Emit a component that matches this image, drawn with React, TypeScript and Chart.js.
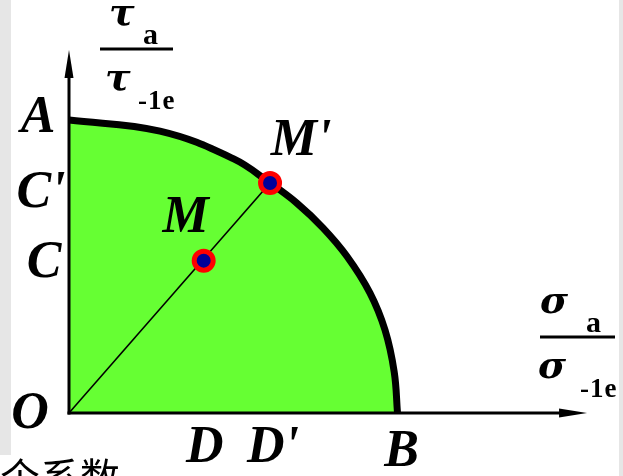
import React, { useEffect, useRef } from "react";
import { Chart, registerables } from "chart.js";

Chart.register(...registerables);

// Limit curve in normalised coordinates (σa/σ-1e, τa/τ-1e)
const arcSigma = [0, 0.277, 0.5, 0.612, 0.694, 0.773, 0.846, 0.916, 0.962, 0.99, 1.0];
const arcTau = [1.0, 0.962, 0.868, 0.785, 0.716, 0.632, 0.535, 0.41, 0.283, 0.14, 0];

// Working point M and its limit point M' on the ray from O
const pointNames = ["M", "M'"];
const pointSigma = [0.41, 0.612];
const pointTau = [0.52, 0.785];

// Axis extents (arrow tips)
const sigmaAxisEnd = 1.577;
const tauAxisEnd = 1.239;

// Letter labels: name, anchor value on each axis
const labelTexts = ["A", "C'", "C", "O", "D", "D'", "B", "M", "M'"];
const labelSigma = [0, 0, 0, 0, 0.41, 0.612, 1.0, 0.41, 0.612];
const labelTau = [1.0, 0.785, 0.52, 0, 0, 0, 0, 0.52, 0.785];

const CAPTION = "个系数";

const GREEN = "rgb(102,255,51)";
const SERIF = '"Liberation Serif", "DejaVu Serif", serif';
const GREEK = '"DejaVu Serif", "Liberation Serif", serif';

// pixel offsets of each letter from its anchor
const labelOffsets: [number, number][] = [
  [-31, 12],
  [-28, 24],
  [-25, 16],
  [-39, 15],
  [1, 49],
  [3, 49],
  [4, 53],
  [-18, -29],
  [31, -28],
];

const backgroundPlugin = {
  id: "paper",
  beforeDraw(chart: any) {
    const { ctx, width, height } = chart;
    ctx.save();
    ctx.fillStyle = "#ffffff";
    ctx.fillRect(0, 0, width, height);
    ctx.fillStyle = "#e6e6e6";
    ctx.fillRect(0, 0, 11, 455);
    ctx.fillRect(width - 4, 0, 4, height);
    ctx.restore();
  },
};

function arrow(ctx: CanvasRenderingContext2D, x0: number, y0: number, x1: number, y1: number) {
  const len = 28;
  const half = 4.5;
  const dx = x1 - x0;
  const dy = y1 - y0;
  const d = Math.hypot(dx, dy);
  const ux = dx / d;
  const uy = dy / d;
  ctx.beginPath();
  ctx.moveTo(x0, y0);
  ctx.lineTo(x1 - ux * len * 0.5, y1 - uy * len * 0.5);
  ctx.stroke();
  const bx = x1 - ux * len;
  const by = y1 - uy * len;
  ctx.beginPath();
  ctx.moveTo(x1, y1);
  ctx.lineTo(bx - uy * half, by + ux * half);
  ctx.lineTo(bx + uy * half, by - ux * half);
  ctx.closePath();
  ctx.fill();
}

const axesPlugin = {
  id: "axesArrows",
  afterDatasetsDraw(chart: any) {
    const { ctx } = chart;
    const xs = chart.scales.x;
    const ys = chart.scales.y;
    const ox = xs.getPixelForValue(0);
    const oy = ys.getPixelForValue(0);
    ctx.save();
    ctx.strokeStyle = "#000";
    ctx.fillStyle = "#000";
    ctx.lineWidth = 3;
    arrow(ctx, ox, oy + 1.5, ox, ys.getPixelForValue(tauAxisEnd));
    arrow(ctx, ox - 1.5, oy, xs.getPixelForValue(sigmaAxisEnd), oy);
    ctx.restore();
  },
};

function fraction(
  ctx: CanvasRenderingContext2D,
  sym: string,
  x: number,
  top: number,
  lineX0: number,
  lineX1: number,
  lowerX: number,
  subUpperX: number,
  subLowerX: number
) {
  ctx.fillStyle = "#000";
  ctx.textAlign = "left";
  ctx.textBaseline = "alphabetic";
  ctx.font = `italic bold 38px ${GREEK}`;
  ctx.fillText(sym, x, top + 21);
  ctx.fillText(sym, lowerX, top + 86);
  ctx.font = `bold 30px ${SERIF}`;
  ctx.fillText("a", subUpperX, top + 40);
  ctx.font = `bold 27px ${SERIF}`;
  (ctx as any).letterSpacing = "1px";
  ctx.fillText("-1e", subLowerX, top + 105);
  (ctx as any).letterSpacing = "0px";
  ctx.fillRect(lineX0, top + 43.5, lineX1 - lineX0, 3);
}

const labelsPlugin = {
  id: "letters",
  afterDraw(chart: any) {
    const { ctx } = chart;
    const xs = chart.scales.x;
    const ys = chart.scales.y;
    ctx.save();
    ctx.fillStyle = "#000";
    ctx.textAlign = "center";
    ctx.textBaseline = "alphabetic";
    ctx.font = `italic bold 52px ${SERIF}`;
    labelTexts.forEach((t, i) => {
      const px = xs.getPixelForValue(labelSigma[i]) + labelOffsets[i][0];
      const py = ys.getPixelForValue(labelTau[i]) + labelOffsets[i][1];
      ctx.fillText(t, px, py);
    });
    // axis titles as fractions
    fraction(ctx, "τ", 109, 4, 100, 173, 105, 143, 138);
    fraction(ctx, "σ", 540, 292, 540, 615, 538, 586, 580);
    // caption fragment at the bottom edge
    ctx.textAlign = "left";
    ctx.font = `40px "Noto Sans CJK SC", sans-serif`;
    ctx.fillText(CAPTION, 0, 492);
    ctx.restore();
  },
};

export default function App() {
  const ref = useRef<HTMLCanvasElement | null>(null);

  useEffect(() => {
    if (!ref.current) return;
    const arcData = arcSigma.map((s, i) => ({ x: s, y: arcTau[i] }));
    const pts = pointSigma.map((s, i) => ({ x: s, y: pointTau[i] }));
    const ray = [{ x: 0, y: 0 }, pts[1]];

    const chart = new Chart(ref.current, {
      type: "line",
      data: {
        datasets: [
          {
            label: pointNames.join(", "),
            data: pts,
            showLine: false,
            pointRadius: 9.5,
            pointBorderWidth: 5,
            pointBackgroundColor: "#000099",
            pointBorderColor: "#ff0000",
            order: 0,
          },
          {
            label: "OM'",
            data: ray,
            borderColor: "#000",
            borderWidth: 1.6,
            pointRadius: 0,
            fill: false,
            order: 1,
          },
          {
            label: "limit",
            data: arcData,
            borderColor: "#000",
            borderWidth: 7,
            backgroundColor: GREEN,
            fill: "origin",
            tension: 0.4,
            pointRadius: 0,
            order: 2,
          },
        ],
      },
      options: {
        animation: false,
        responsive: false,
        devicePixelRatio: 1,
        layout: { padding: 0, autoPadding: false },
        plugins: {
          legend: { display: false },
          tooltip: { enabled: false },
          title: { display: false },
        },
        scales: {
          x: { type: "linear", display: false, min: -0.21005, max: 1.68645 },
          y: { type: "linear", display: false, min: -0.21502, max: 1.40956 },
        },
      },
      plugins: [backgroundPlugin, axesPlugin, labelsPlugin],
    });
    return () => chart.destroy();
  }, []);

  return (
    <div style={{ position: "fixed", left: 0, top: 0, width: 623, height: 476, overflow: "hidden" }}>
      <canvas ref={ref} width={623} height={476} style={{ width: 623, height: 476, display: "block" }} />
    </div>
  );
}
